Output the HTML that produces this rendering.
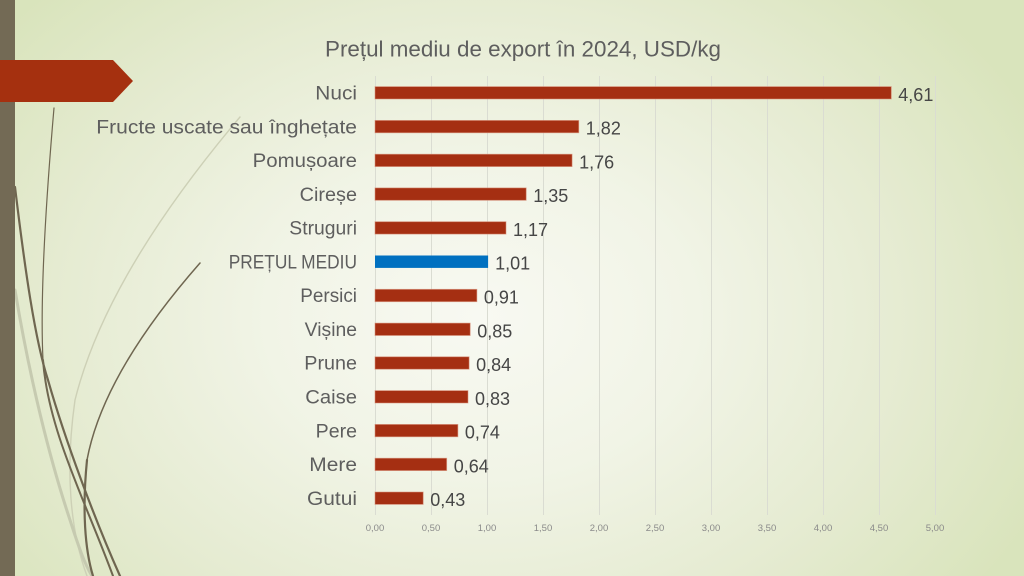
<!DOCTYPE html>
<html><head><meta charset="utf-8"><style>
html,body{margin:0;padding:0;}
body{width:1024px;height:576px;overflow:hidden;position:relative;
background:radial-gradient(ellipse 60% 80% at 47% 55%, #f8f9f2 0%, #f1f4e6 35%, #e5ebd1 70%, #d9e4bc 100%);}
svg{position:absolute;left:0;top:0;}
text{font-family:"Liberation Sans",sans-serif;}
</style></head><body>
<svg width="1024" height="576" viewBox="0 0 1024 576" xmlns="http://www.w3.org/2000/svg">
  <!-- decorative curves -->
  <g fill="none" stroke-linecap="round">
    <path d="M240,117 C170,200 100,300 75,400 C65,470 70,530 87,576" stroke="#cdd0b6" stroke-width="1.4"/>
    <path d="M15,290 C30,380 50,460 70,520 C78,545 85,565 92,576" stroke="#c6cab0" stroke-width="3"/>
    <path d="M54,108 C46,200 40,300 43,360" stroke="#6f6650" stroke-width="1.2"/>
    <path d="M43,360 C48,430 85,500 113,576" stroke="#6f6650" stroke-width="2"/>
    <path d="M15,187 C25,270 35,340 48,380 C65,440 95,520 120,576" stroke="#6f6650" stroke-width="2.2"/>
    <path d="M200,263 C150,320 100,390 87,460" stroke="#6f6650" stroke-width="1.5"/>
    <path d="M87,460 C82,510 85,550 93,576" stroke="#6f6650" stroke-width="2.2"/>
  </g>
  <!-- left stripe -->
  <rect x="0" y="0" width="15" height="576" fill="#736a55"/>
  <!-- red arrow -->
  <polygon points="0,60 113,60 133,81 113,102 0,102" fill="#a5300f"/>

  <!-- title -->
  <text x="523" y="56.7" text-anchor="middle" font-size="22" fill="#5e5e5e" textLength="396" lengthAdjust="spacingAndGlyphs">Prețul mediu de export în 2024, USD/kg</text>

  <!-- gridlines -->
  <g stroke="#dadcd2" stroke-width="1">
    <line x1="375.5" y1="76" x2="375.5" y2="515"/>
    <line x1="431.5" y1="76" x2="431.5" y2="515"/>
    <line x1="487.5" y1="76" x2="487.5" y2="515"/>
    <line x1="543.5" y1="76" x2="543.5" y2="515"/>
    <line x1="599.5" y1="76" x2="599.5" y2="515"/>
    <line x1="655.5" y1="76" x2="655.5" y2="515"/>
    <line x1="711.5" y1="76" x2="711.5" y2="515"/>
    <line x1="767.5" y1="76" x2="767.5" y2="515"/>
    <line x1="823.5" y1="76" x2="823.5" y2="515"/>
    <line x1="879.5" y1="76" x2="879.5" y2="515"/>
    <line x1="935.5" y1="76" x2="935.5" y2="515"/>
  </g>

  <!-- tick labels -->
  <g font-size="9.5" fill="#8a8a8a" text-anchor="middle">
    <text x="375" y="531">0,00</text>
    <text x="431" y="531">0,50</text>
    <text x="487" y="531">1,00</text>
    <text x="543" y="531">1,50</text>
    <text x="599" y="531">2,00</text>
    <text x="655" y="531">2,50</text>
    <text x="711" y="531">3,00</text>
    <text x="767" y="531">3,50</text>
    <text x="823" y="531">4,00</text>
    <text x="879" y="531">4,50</text>
    <text x="935" y="531">5,00</text>
  </g>

  <!-- bars -->
  <g stroke="#d9937c" stroke-width="0.8" stroke-opacity="0.7">
    <rect x="375" y="86.6" width="516.3" height="12.4" fill="#a52f12"/>
    <rect x="375" y="120.4" width="203.8" height="12.4" fill="#a52f12"/>
    <rect x="375" y="154.2" width="197.1" height="12.4" fill="#a52f12"/>
    <rect x="375" y="187.9" width="151.2" height="12.4" fill="#a52f12"/>
    <rect x="375" y="221.7" width="131.0" height="12.4" fill="#a52f12"/>
    <rect x="375" y="255.5" width="113.1" height="12.4" fill="#0070c0" stroke="none"/>
    <rect x="375" y="289.3" width="101.9" height="12.4" fill="#a52f12"/>
    <rect x="375" y="323.1" width="95.2" height="12.4" fill="#a52f12"/>
    <rect x="375" y="356.8" width="94.1" height="12.4" fill="#a52f12"/>
    <rect x="375" y="390.6" width="93.0" height="12.4" fill="#a52f12"/>
    <rect x="375" y="424.4" width="82.9" height="12.4" fill="#a52f12"/>
    <rect x="375" y="458.2" width="71.7" height="12.4" fill="#a52f12"/>
    <rect x="375" y="492.0" width="48.2" height="12.4" fill="#a52f12"/>
  </g>

  <!-- category labels -->
  <g font-size="19" fill="#5e5e5e" text-anchor="end">
    <text x="357" y="99.5" textLength="41.7" lengthAdjust="spacingAndGlyphs">Nuci</text>
    <text x="357" y="133.3" textLength="260.7" lengthAdjust="spacingAndGlyphs">Fructe uscate sau înghețate</text>
    <text x="357" y="167.1" textLength="104.3" lengthAdjust="spacingAndGlyphs">Pomușoare</text>
    <text x="357" y="200.9" textLength="57.3" lengthAdjust="spacingAndGlyphs">Cireșe</text>
    <text x="357" y="234.6" textLength="67.7" lengthAdjust="spacingAndGlyphs">Struguri</text>
    <text x="357" y="268.4" textLength="128.3" lengthAdjust="spacingAndGlyphs">PREȚUL MEDIU</text>
    <text x="357" y="302.2" textLength="56.7" lengthAdjust="spacingAndGlyphs">Persici</text>
    <text x="357" y="336.0" textLength="52.3" lengthAdjust="spacingAndGlyphs">Vișine</text>
    <text x="357" y="369.7" textLength="52.7" lengthAdjust="spacingAndGlyphs">Prune</text>
    <text x="357" y="403.5" textLength="51.7" lengthAdjust="spacingAndGlyphs">Caise</text>
    <text x="357" y="437.3" textLength="41.3" lengthAdjust="spacingAndGlyphs">Pere</text>
    <text x="357" y="471.1" textLength="47.7" lengthAdjust="spacingAndGlyphs">Mere</text>
    <text x="357" y="504.9" textLength="50" lengthAdjust="spacingAndGlyphs">Gutui</text>
  </g>

  <!-- data labels -->
  <g font-size="18" fill="#464646">
    <text x="898.3" y="100.8">4,61</text>
    <text x="585.8" y="134.6">1,82</text>
    <text x="579.1" y="168.4">1,76</text>
    <text x="533.2" y="202.1">1,35</text>
    <text x="513.0" y="235.9">1,17</text>
    <text x="495.1" y="269.7">1,01</text>
    <text x="483.9" y="303.5">0,91</text>
    <text x="477.2" y="337.3">0,85</text>
    <text x="476.1" y="371.0">0,84</text>
    <text x="475.0" y="404.8">0,83</text>
    <text x="464.9" y="438.6">0,74</text>
    <text x="453.7" y="472.4">0,64</text>
    <text x="430.2" y="506.2">0,43</text>
  </g>
</svg>
</body></html>
